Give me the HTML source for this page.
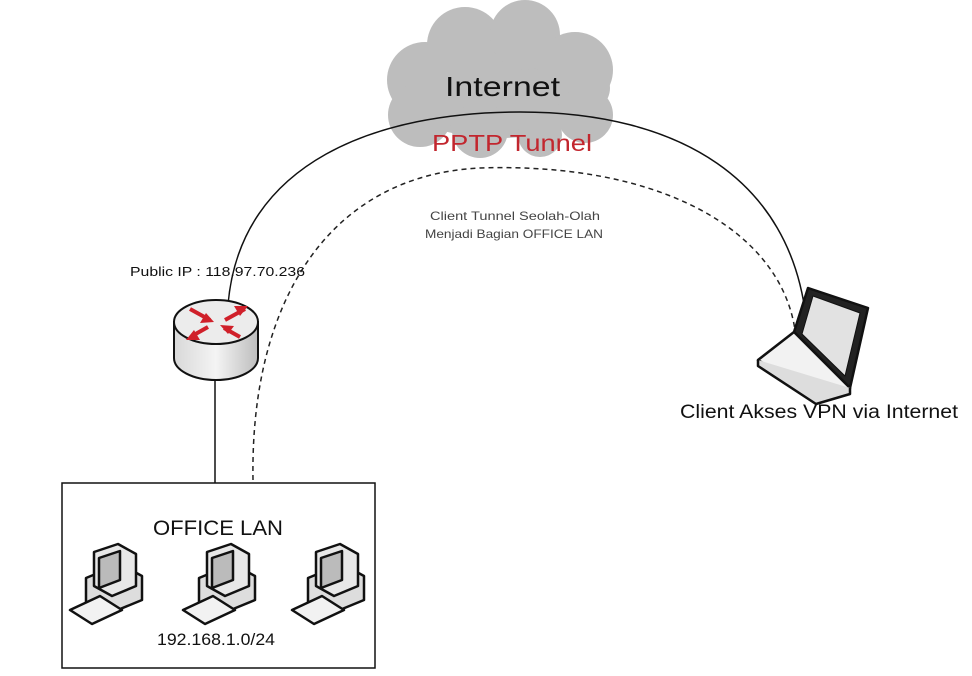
<!DOCTYPE html>
<html><head><meta charset="utf-8"><style>
body{margin:0;background:#fff;width:972px;height:676px;overflow:hidden}
svg{display:block}
text{font-family:"Liberation Sans",sans-serif}
</style></head><body>
<svg width="972" height="676" viewBox="0 0 972 676">
<defs>
<linearGradient id="cyl" x1="0" x2="1"><stop offset="0" stop-color="#d8d8d8"/><stop offset=".5" stop-color="#f4f4f4"/><stop offset="1" stop-color="#bdbdbd"/></linearGradient>
<g id="pc" stroke="#111" stroke-width="2.5" stroke-linejoin="round">
<path d="M14 30 L48 16 L70 28 L70 52 L36 66 L14 54 Z" fill="#ddd"/>
<path d="M22 4 L46 -4 L64 6 L64 38 L40 48 L22 38 Z" fill="#e8e8e8"/>
<path d="M27 10 L48 3 L48 32 L27 40 Z" fill="#bbb"/>
<path d="M-2 62 L28 48 L50 62 L20 76 Z" fill="#f2f2f2"/>
</g>
</defs>
<!-- cloud -->
<g fill="#bdbdbd">
<ellipse cx="500" cy="88" rx="110" ry="50"/>
<circle cx="425" cy="80" r="38"/>
<circle cx="465" cy="45" r="38"/>
<circle cx="525" cy="35" r="35"/>
<circle cx="575" cy="70" r="38"/>
<circle cx="420" cy="115" r="32"/>
<circle cx="480" cy="130" r="28"/>
<circle cx="540" cy="135" r="22"/>
<circle cx="585" cy="115" r="28"/>
</g>
<text x="445" y="96" font-size="28" fill="#111" textLength="115" lengthAdjust="spacingAndGlyphs">Internet</text>
<!-- arcs -->
<path d="M228 305 C240 160 380 112 520 112 C680 112 790 180 806 318" fill="none" stroke="#111" stroke-width="1.5"/>
<path d="M253 480 C250 300 330 175 480 168 C660 162 780 230 795 330" fill="none" stroke="#222" stroke-width="1.5" stroke-dasharray="5,4"/>
<text x="432" y="151" font-size="23" fill="#c2262e" textLength="160" lengthAdjust="spacingAndGlyphs">PPTP Tunnel</text>
<text x="430" y="220" font-size="12" fill="#444" textLength="170" lengthAdjust="spacingAndGlyphs">Client Tunnel Seolah-Olah</text>
<text x="425" y="238" font-size="12" fill="#444" textLength="178" lengthAdjust="spacingAndGlyphs">Menjadi Bagian OFFICE LAN</text>
<text x="130" y="276" font-size="13" fill="#111" textLength="175" lengthAdjust="spacingAndGlyphs">Public IP : 118.97.70.236</text>
<!-- router -->
<line x1="215" y1="380" x2="215" y2="483" stroke="#111" stroke-width="1.5"/>
<path d="M174 322 L174 358 A42 22 0 0 0 258 358 L258 322 Z" fill="url(#cyl)" stroke="#111" stroke-width="2"/>
<ellipse cx="216" cy="322" rx="42" ry="22" fill="#ececec" stroke="#111" stroke-width="2"/>
<g stroke="#d0202a" stroke-width="4" fill="#d0202a">
<line x1="190" y1="309" x2="210" y2="320"/><polygon points="214,322 200,323 206,313" stroke="none"/>
<line x1="245" y1="309" x2="225" y2="320"/><polygon points="248,306 234,306 240,316" stroke="none"/>
<line x1="208" y1="327" x2="192" y2="336"/><polygon points="186,340 200,340 194,330" stroke="none"/>
<line x1="240" y1="337" x2="224" y2="328"/><polygon points="220,325 234,326 228,334" stroke="none"/>
</g>
<!-- laptop -->
<g stroke="#111" stroke-width="2.5" stroke-linejoin="round">
<path d="M808 288 L868 308 L850 388 L794 332 Z" fill="#222"/>
<path d="M813 296 L860 313 L845 376 L802 334 Z" fill="#e2e2e2" stroke-width="1"/>
<path d="M794 332 L850 388 L816 398 L758 360 Z" fill="#f2f2f2"/>
<path d="M758 360 L758 366 L816 404 L850 394 L850 388" fill="#ddd"/>
</g>
<text x="680" y="418" font-size="19" fill="#111" textLength="278" lengthAdjust="spacingAndGlyphs">Client Akses VPN via Internet</text>
<!-- office box -->
<rect x="62" y="483" width="313" height="185" fill="#fff" stroke="#111" stroke-width="1.5"/>
<text x="153" y="535" font-size="21" fill="#111" textLength="130" lengthAdjust="spacingAndGlyphs">OFFICE LAN</text>
<use href="#pc" x="72" y="548"/>
<use href="#pc" x="185" y="548"/>
<use href="#pc" x="294" y="548"/>
<text x="157" y="645" font-size="17" fill="#111" textLength="118" lengthAdjust="spacingAndGlyphs">192.168.1.0/24</text>
</svg>
</body></html>
